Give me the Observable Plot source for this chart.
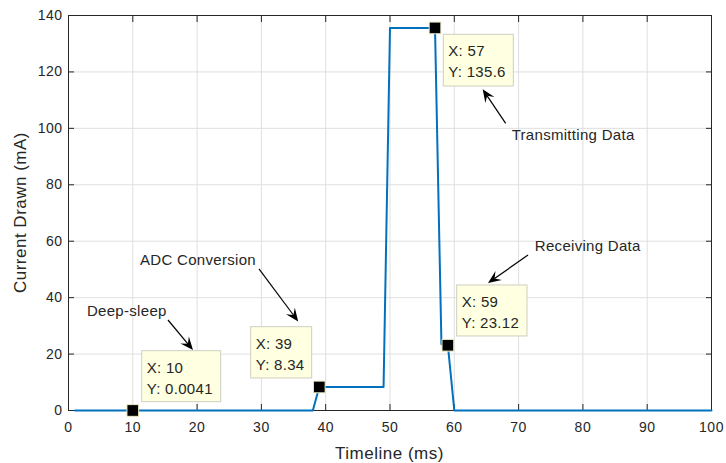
<!DOCTYPE html>
<html><head><meta charset="utf-8">
<script src="https://cdn.jsdelivr.net/npm/d3@7"></script>
<script src="https://cdn.jsdelivr.net/npm/@observablehq/plot@0.6"></script>
<style>
body{margin:0;background:#fff}
svg text{letter-spacing:0.5px}
</style>
</head><body><div id="chart"></div>
<script>
// ---- data ----
const timeMs    = [1, 10, 38, 39, 49, 50, 57, 58, 59, 60, 100];
const currentMa = [0.0041, 0.0041, 0.0041, 8.34, 8.34, 135.6, 135.6, 23.5, 23.12, 0.0041, 0.0041];
const xTicks = [0, 10, 20, 30, 40, 50, 60, 70, 80, 90, 100];
const yTicks = [0, 20, 40, 60, 80, 100, 120, 140];
const tipX = [10, 39, 57, 59];
const tipY = [0.0041, 8.34, 135.6, 23.12];
const tipTextX = ["X: 10", "X: 39", "X: 57", "X: 59"];
const tipTextY = ["Y: 0.0041", "Y: 8.34", "Y: 135.6", "Y: 23.12"];
const noteLabels = ["Deep-sleep", "ADC Conversion", "Transmitting Data", "Receiving Data"];
const xTitle = "Timeline (ms)";
const yTitle = "Current Drawn (mA)";

// ---- layout (annotation placement, in data units / pixel offsets) ----
const noteLayout = [
  {tx: 2.95, ty: 35.1, x1: 15.55, y1: 31.9, x2: 19.44, y2: 21.3},
  {tx: 11.2, ty: 53.2, x1: 29.7,  y1: 50.0, x2: 35.8,  y2: 31.4},
  {tx: 69.0, ty: 97.5, x1: 68.07, y1: 101.6, x2: 64.49, y2: 113.7},
  {tx: 72.6, ty: 58.1, x1: 71.54, y1: 54.9, x2: 65.32, y2: 45.0}
];
const tipLayout = [
  {left: 9.4,   top: -59.3, w: 79,   h: 51},
  {left: -68.1, top: -59.8, w: 61,   h: 51.3},
  {left: 8.8,   top: 6.9,   w: 70,   h: 51.7},
  {left: 9.3,   top: -59.8, w: 70.3, h: 51}
];

const series = timeMs.map((t, i) => ({t, c: currentMa[i]}));
const tips = tipX.map((x, i) => ({x, y: tipY[i]}));
const axisColor = "#262626";
const font = "'Liberation Sans', Arial, Helvetica, sans-serif";

const svg = Plot.plot({
  width: 726, height: 463,
  marginLeft: 68, marginRight: 15, marginTop: 15, marginBottom: 53,
  style: {fontFamily: font, fontSize: "14px", color: axisColor, background: "#fff", overflow: "visible"},
  x: {domain: [0, 100], label: null},
  y: {domain: [0, 140], label: null},
  marks: [
    Plot.gridX(xTicks, {stroke: "#dfdfdf", strokeOpacity: 1}),
    Plot.gridY(yTicks, {stroke: "#dfdfdf", strokeOpacity: 1}),
    Plot.frame({stroke: axisColor, strokeWidth: 1}),
    Plot.axisX(xTicks, {anchor: "bottom", tickSize: -6, tickPadding: 18, stroke: axisColor, fill: axisColor, label: null}),
    Plot.axisX(xTicks, {anchor: "top", tickSize: -6, tickFormat: () => "", stroke: axisColor, label: null}),
    Plot.axisY(yTicks, {anchor: "left", tickSize: -6, tickPadding: 12, stroke: axisColor, fill: axisColor, label: null}),
    Plot.axisY(yTicks, {anchor: "right", tickSize: -6, tickFormat: () => "", stroke: axisColor, label: null}),
    Plot.line(series, {x: "t", y: "c", stroke: "#0072BD", strokeWidth: 2}),
    Plot.dot(tips, {x: "x", y: "y", symbol: "square", r: 6.6, fill: "#000", stroke: "#efebc4", strokeWidth: 1})
  ]
});

const sx = svg.scale("x"), sy = svg.scale("y");
const g = d3.select(svg).append("g").attr("font-family", font).attr("text-anchor", "start");

// data tips
tips.forEach((d, i) => {
  const L = tipLayout[i];
  const px = sx.apply(d.x), py = sy.apply(d.y);
  const bx = px + L.left, by = py + L.top;
  g.append("rect").attr("x", bx).attr("y", by).attr("width", L.w).attr("height", L.h)
    .attr("fill", "#ffffe1").attr("stroke", "#cfcfc0").attr("stroke-width", 1);
  g.append("text").attr("x", bx + 5).attr("y", by + 22).attr("font-size", 15).attr("text-anchor", "start")
    .attr("fill", axisColor).style("letter-spacing", "0.3px").text(tipTextX[i]);
  g.append("text").attr("x", bx + 5).attr("y", by + 43).attr("font-size", 15).attr("text-anchor", "start")
    .attr("fill", axisColor).style("letter-spacing", "0.3px").text(tipTextY[i]);
});

// notes with arrows
noteLabels.forEach((label, i) => {
  const L = noteLayout[i];
  g.append("text").attr("x", sx.apply(L.tx)).attr("y", sy.apply(L.ty)).attr("dy", "0.35em").attr("text-anchor", "start")
    .attr("font-size", 15).attr("fill", axisColor).style("letter-spacing", "0.3px").text(label);
  const x1 = sx.apply(L.x1), y1 = sy.apply(L.y1), x2 = sx.apply(L.x2), y2 = sy.apply(L.y2);
  const ang = Math.atan2(y2 - y1, x2 - x1);
  const hl = 13, hw = 5.5, notch = 8;
  const ux = Math.cos(ang), uy = Math.sin(ang), nx = -uy, ny = ux;
  const bx = x2 - ux * hl, by = y2 - uy * hl;
  const cx = x2 - ux * notch, cy = y2 - uy * notch;
  g.append("line").attr("x1", x1).attr("y1", y1).attr("x2", cx).attr("y2", cy)
    .attr("stroke", "#000").attr("stroke-width", 1.2);
  g.append("path").attr("d", `M${x2},${y2}L${bx + nx * hw},${by + ny * hw}L${cx},${cy}L${bx - nx * hw},${by - ny * hw}Z`)
    .attr("fill", "#000");
});

// axis titles
g.append("text").attr("x", (sx.range[0] + sx.range[1]) / 2).attr("y", 459)
  .attr("text-anchor", "middle").attr("font-size", 17).attr("fill", axisColor).text(xTitle);
g.append("text").attr("transform", `translate(26,${(sy.range[0] + sy.range[1]) / 2}) rotate(-90)`)
  .attr("text-anchor", "middle").attr("font-size", 17).attr("fill", axisColor).text(yTitle);

document.getElementById("chart").appendChild(svg);
</script>
</body></html>
